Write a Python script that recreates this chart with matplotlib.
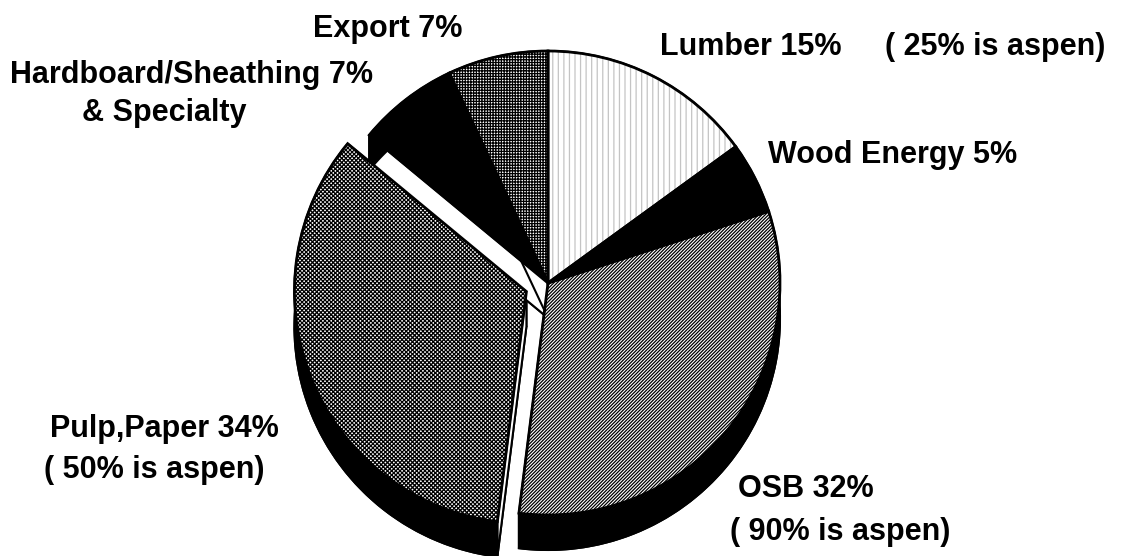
import numpy as np
import matplotlib
matplotlib.use("Agg")
import matplotlib.pyplot as plt
from matplotlib.patches import Wedge, Polygon

# shares of the aspen/wood market, clockwise from 12 o'clock
segments = ["Lumber", "Wood Energy", "OSB", "Pulp,Paper", "Hardboard/Sheathing", "Export"]
shares = [15, 5, 32, 34, 7, 7]
explode = [0, 0, 0, 0.1, 0, 0]

faces = ["white", "black", "white", "white", "black", "white"]
hatches = ["|||", "", "//////////", "xxxxxxxx", "", "++++++"]
hatch_cols = ["#c4c4c4", "black", "black", "black", "black", "black"]

plt.rcParams["hatch.linewidth"] = 0.9
W, H = 1126, 556
R = 232.0          # pie radius in pixels
CX, CY = 548, 283  # pie centre in pixels (from top)
depth = 35 / R     # thickness of the 3-D pie

fig = plt.figure(figsize=(W / 100, H / 100), dpi=100)
ax = fig.add_axes([0, 0, 1, 1])

wedges, _ = ax.pie(shares, explode=explode, startangle=90, counterclock=False,
                   radius=1, colors=faces, wedgeprops=dict(linewidth=0))

for w, h, hc in zip(wedges, hatches, hatch_cols):
    w.set_hatch(h)
    w.set_edgecolor(hc)
    w.set_zorder(3)
    cx, cy = w.center
    r, t1, t2 = w.r, w.theta1, w.theta2
    # outline of the top face
    ax.add_patch(Wedge((cx, cy), r, t1, t2, fill=False, ec="black", lw=2, zorder=4))
    # bottom face
    ax.add_patch(Wedge((cx, cy - depth), r, t1, t2, fc="black", ec="black", lw=1.5, zorder=1))
    # radial side walls (white)
    for t in (t1, t2):
        px = cx + r * np.cos(np.radians(t))
        py = cy + r * np.sin(np.radians(t))
        quad = [(cx, cy), (px, py), (px, py - depth), (cx, cy - depth)]
        ax.add_patch(Polygon(quad, closed=True, fc="white", ec="black", lw=1.5, zorder=1.5))
    # curved outer wall (black)
    th = np.radians(np.linspace(t1, t2, 80))
    top = np.column_stack([cx + r * np.cos(th), cy + r * np.sin(th)])
    bot = top[::-1] - [0, depth]
    ax.add_patch(Polygon(np.vstack([top, bot]), closed=True, fc="black", ec="black",
                         lw=1.5, zorder=2))

ax.set_xlim(-CX / R, (W - CX) / R)
ax.set_ylim(-(H - CY) / R, CY / R)
ax.set_aspect("auto")
ax.axis("off")

# labels: (text, left x px, baseline y px)
label_specs = [
    ("Export 7%", 313, 37),
    ("Hardboard/Sheathing 7%", 10, 83),
    ("& Specialty", 82, 121),
    ("Lumber 15%", 660, 55),
    ("( 25% is aspen)", 885, 55),
    ("Wood Energy 5%", 768, 163),
    ("OSB 32%", 738, 497),
    ("( 90% is aspen)", 730, 540),
    ("Pulp,Paper 34%", 50, 437),
    ("( 50% is aspen)", 44, 478),
]
for txt, x, y in label_specs:
    fig.text(x / W, 1 - y / H, txt, ha="left", va="baseline",
             fontsize=22, fontweight="bold", family="Liberation Sans")

fig.savefig("out.png", dpi=100)
